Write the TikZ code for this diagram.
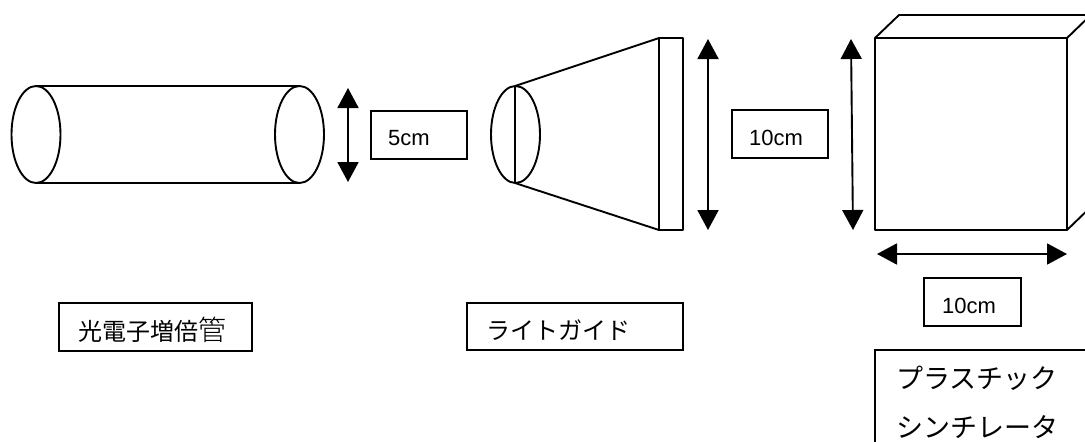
\documentclass[tikz,border=0pt]{standalone}
\usepackage{fontspec}
\setmainfont{Liberation Sans}
\newfontfamily\jpfont{Noto Sans CJK JP}[Scale=1]
\newfontfamily\jpthin{Noto Sans CJK JP Light}[Scale=1]
\usetikzlibrary{arrows.meta}
\tikzset{
  outline/.style={draw=black,line width=1.9pt,line join=round},
  dim/.style={draw=black,line width=1.9pt,{Triangle[length=20pt,width=21pt]}-{Triangle[length=20pt,width=21pt]}},
  labelbox/.style={draw=black,line width=1.9pt,anchor=north west,inner sep=0pt,outer sep=0pt,fill=white},
  latin/.style={anchor=base west,inner sep=0pt,font=\fontsize{22}{22}\selectfont},
  jp/.style={anchor=base west,inner sep=0pt,font=\jpfont\fontsize{24}{24}\selectfont},
}
\begin{document}
\begin{tikzpicture}[x=1pt,y=-1pt]
\useasboundingbox (0,0) rectangle (1085,442);
% photomultiplier tube
\coordinate (tl) at (36,86); \coordinate (tr) at (299.5,86);
\coordinate (bl) at (36,183); \coordinate (br) at (299.5,183);
\draw[outline] (tl) -- (tr) (bl) -- (br);
\draw[outline] (36,134.5) ellipse [x radius=24.5,y radius=48.5];
\draw[outline] (299.5,134.5) ellipse [x radius=24.5,y radius=48.5];
\coordinate (a1t) at (348,88); \coordinate (a1b) at (348,182);
\draw[dim] (a1t) -- (a1b);
\node[labelbox,minimum width=96pt,minimum height=48pt] (box5) at (371,111) {};
\node[latin] (t5) at (388,145) {5cm};
% light guide
\coordinate (gt) at (515,86); \coordinate (gb) at (515,183);
\coordinate (wt) at (659,38); \coordinate (wb) at (659,230);
\draw[outline] (515.5,134.5) ellipse [x radius=24.5,y radius=48.5];
\draw[outline] (gt) -- (gb);
\draw[outline] (gt) -- (wt) (gb) -- (wb);
\draw[outline] (wt) rectangle (683,230);
\coordinate (a2t) at (708,39); \coordinate (a2b) at (708,230);
\draw[dim] (a2t) -- (a2b);
\node[labelbox,minimum width=96pt,minimum height=48pt] (box10a) at (732,110) {};
\node[latin] (t10a) at (749,145) {10cm};
% scintillator cube
\coordinate (fa) at (875,38); \coordinate (fb) at (1067,38);
\coordinate (fc) at (1067,230); \coordinate (fd) at (875,230);
\draw[outline] (fa) -- (fb) -- (fc) -- (fd) -- cycle;
\draw[outline] (fa) -- (899,15) -- (1095,15);
\draw[outline] (fb) -- (1095,11);
\draw[outline] (fc) -- (1095,203);
\coordinate (a3t) at (851,39); \coordinate (a3b) at (853,230);
\draw[dim] (a3t) -- (a3b);
\coordinate (a4l) at (877,254); \coordinate (a4r) at (1067,254);
\draw[dim] (a4l) -- (a4r);
\node[labelbox,minimum width=97pt,minimum height=48pt] (box10b) at (924,278) {};
\node[latin] (t10b) at (942,313) {10cm};
% name labels
\node[labelbox,minimum width=193pt,minimum height=48pt] (boxp) at (59,303) {};
\node[jp] (tp) at (78,340) {光電子増倍\fontsize{28}{28}\selectfont\jpthin 管};
\node[labelbox,minimum width=216pt,minimum height=47pt] (boxl) at (467,303) {};
\node[jp] (tl2) at (486,339) {ライトガイド};
\node[labelbox,minimum width=240pt,minimum height=120pt] (boxs) at (875,350) {};
\node[jp,font=\jpfont\fontsize{27}{27}\selectfont] (ts1) at (896,388) {プラスチック};
\node[jp,font=\jpfont\fontsize{27}{27}\selectfont] (ts2) at (896,437) {シンチレータ};
\end{tikzpicture}
\end{document}
